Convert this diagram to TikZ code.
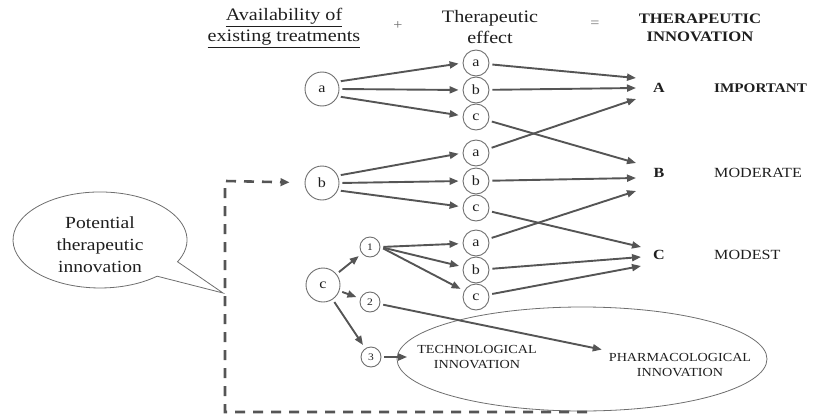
\documentclass[tikz,border=0pt]{standalone}
\usepackage{fontspec}
\setmainfont{Liberation Serif}[FakeStretch=1.15]
\usetikzlibrary{arrows.meta,shapes.geometric}
\definecolor{linegray}{RGB}{85,85,85}
\definecolor{circgray}{RGB}{110,110,110}
\definecolor{textgray}{RGB}{30,30,30}
\begin{document}
\begin{tikzpicture}[x=1pt,y=-1pt,
  arr/.style={draw=linegray, line width=1.9pt, -{Triangle[length=9pt,width=7pt]}, shorten <=3pt, shorten >=4pt},
  dasharr/.style={draw=linegray, line width=2.6pt, dash pattern=on 10pt off 8pt, -{Triangle[length=9pt,width=7.5pt]}},
  bigc/.style={circle, draw=circgray, line width=0.9pt, minimum size=34pt, inner sep=0pt, font=\fontsize{14}{16}\selectfont, text=textgray},
  midc/.style={circle, draw=circgray, line width=0.9pt, minimum size=26pt, inner sep=0pt, font=\fontsize{14}{16}\selectfont, text=textgray},
  smc/.style={circle, draw=circgray, line width=0.9pt, minimum size=20pt, inner sep=0pt, font=\fontsize{10}{12}\selectfont, text=textgray},
  hdr/.style={align=center, inner sep=0pt, text=textgray, font=\fontsize{17.5}{21}\selectfont},
  boldlab/.style={inner sep=0pt, text=textgray, font=\fontsize{14}{16}\selectfont\bfseries},
  lab/.style={inner sep=0pt, text=textgray, font=\fontsize{14}{16}\selectfont},
  innovtxt/.style={align=center, text=textgray, font=\fontsize{12.3}{14.5}\selectfont}
]
\useasboundingbox (0,0) rectangle (813,415);

% headers
\node[hdr] (h1) at (284,28) {\underline{Availability of}\\\underline{existing treatments}};
\node[hdr, text=circgray, font=\fontsize{14}{16}\selectfont] (plus) at (398,26) {+};
\node[hdr] (h2) at (490,27) {Therapeutic\\effect};
\node[hdr, text=circgray, font=\fontsize{14}{16}\selectfont] (eq) at (595,24) {=};
\node[hdr, font=\fontsize{14.5}{17.5}\selectfont\bfseries] (h3) at (700,28) {THERAPEUTIC\\INNOVATION};

% level 1
\node[bigc] (la) at (322,89) {a};
\node[bigc] (lb) at (322,183) {b};
\node[bigc] (lc) at (323,285) {c};

% level 2
\node[midc] (aa) at (476,63) {a};
\node[midc] (ab) at (476,90) {b};
\node[midc] (ac) at (476,117) {c};
\node[midc] (ba) at (476,153) {a};
\node[midc] (bb) at (476,181) {b};
\node[midc] (bc) at (476,208) {c};
\node[midc] (ca) at (476,243) {a};
\node[midc] (cb) at (476,270) {b};
\node[midc] (ccn) at (476,297) {c};

% numbered
\node[smc] (n1) at (370,247) {1};
\node[smc] (n2) at (370,302) {2};
\node[smc] (n3) at (371,357) {3};

% target labels
\node[boldlab] (tA) at (659,88) {A};
\node[boldlab, anchor=west, font=\fontsize{13.2}{16}\selectfont\bfseries] (imp) at (714,88) {IMPORTANT};
\node[boldlab] (tB) at (659,173) {B};
\node[lab, anchor=west] (mod) at (714,173) {MODERATE};
\node[boldlab] (tC) at (659,255) {C};
\node[lab, anchor=west] (mst) at (714,255) {MODEST};

\coordinate (A1) at (636,78);
\coordinate (A2) at (636,88);
\coordinate (A3) at (636,99);
\coordinate (B1) at (636,163);
\coordinate (B2) at (636,178);
\coordinate (B3) at (636,191);
\coordinate (C1) at (641,247);
\coordinate (C2) at (641,257);
\coordinate (C3) at (641,266);

% innovation ellipse
\node[ellipse, draw=circgray, line width=0.8pt, minimum width=370pt, minimum height=104pt] (innov) at (582,359) {};
\node[innovtxt, inner sep=10pt] (tech) at (477,357) {TECHNOLOGICAL\\INNOVATION};
\node[innovtxt, inner sep=3pt] (pharma) at (680,365) {PHARMACOLOGICAL\\INNOVATION};

% arrows level1 -> level2
\draw[arr] (la.25) -- (aa.west);
\draw[arr] (la.east) -- (ab.west);
\draw[arr] (la.-25) -- (ac.175);
\draw[arr] (lb.25) -- (ba.west);
\draw[arr] (lb.east) -- (bb.west);
\draw[arr] (lb.-25) -- (bc.175);
\draw[arr] (lc) -- (n1);
\draw[arr] (lc) -- (n2);
\draw[arr] (lc) -- (n3);
\draw[arr] (n1.east) -- (ca);
\draw[arr] (n1.east) -- (cb);
\draw[arr] (n1.east) -- (ccn);

% level2 -> targets
\draw[arr, shorten >=0pt] (aa) -- (A1);
\draw[arr, shorten >=0pt] (ab) -- (A2);
\draw[arr, shorten >=0pt] (ba) -- (A3);
\draw[arr, shorten >=0pt] (ac) -- (B1);
\draw[arr, shorten >=0pt] (bb) -- (B2);
\draw[arr, shorten >=0pt] (ca) -- (B3);
\draw[arr, shorten >=0pt] (bc) -- (C1);
\draw[arr, shorten >=0pt] (cb) -- (C2);
\draw[arr, shorten >=0pt] (ccn) -- (C3);

% to innovations
\draw[arr] (n2) -- (pharma.north west);
\draw[arr, shorten >=0pt] (n3) -- (tech);

% dashed feedback
\coordinate (d0) at (587,412);
\coordinate (d1) at (225,412);
\coordinate (d2) at (225,181);
\draw[dasharr, shorten >=15pt] (d0) -- (d1) -- (d2) -- (lb);

% speech bubble
\coordinate (tip) at (223,293);
\draw[draw=circgray, line width=0.8pt, fill=white] (tip) -- (157.1,276.2) arc[start angle=49, end angle=387, x radius=87, y radius=48] -- cycle;
\node[hdr, font=\fontsize{17}{22}\selectfont] (bub) at (100,245) {Potential\\therapeutic\\innovation};
\end{tikzpicture}
\end{document}
